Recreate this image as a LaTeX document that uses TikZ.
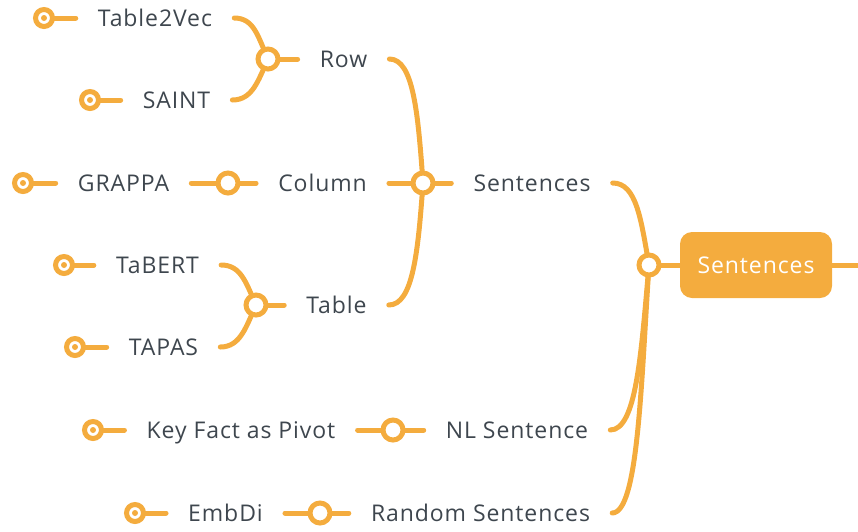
\documentclass[tikz,border=0pt]{standalone}
\usepackage{fontspec}
\setmainfont{Open Sans}[LetterSpace=4]
\usetikzlibrary{backgrounds}
\definecolor{org}{HTML}{F4AC3E}
\definecolor{txt}{HTML}{3E464E}
\begin{document}
\begin{tikzpicture}[x=1pt,y=-1pt,
  lbl/.style={text=txt, font=\fontsize{23}{26}\selectfont, inner xsep=22pt, inner ysep=0pt,
    text height=16.4pt, text depth=0pt, anchor=center},
  junc/.style={circle, draw=org, line width=5pt, fill=white, minimum size=20pt, inner sep=0pt},
  leaf/.style={circle, draw=org, line width=5pt, fill=white, minimum size=17pt, inner sep=0pt,
    path picture={\fill[org] (path picture bounding box.center) circle (3pt);}},
  ln/.style={draw=org, line width=5pt, line cap=round},
  mainbox/.style={rectangle, rounded corners=12pt, fill=org, text=white, minimum width=152pt,
    minimum height=66pt, font=\fontsize{23}{26}\selectfont, inner sep=0pt,
    text height=16.4pt, text depth=0pt},
]
\useasboundingbox (0,0) rectangle (858,531);

% text nodes
\node[lbl] (t2v) at (155,18) {Table2Vec};
\node[lbl] (saint) at (176.5,100) {SAINT};
\node[lbl] (row) at (343.5,59) {Row};
\node[lbl] (grappa) at (123.5,183) {GRAPPA};
\node[lbl] (column) at (322.5,183) {Column};
\node[lbl] (sent) at (532,183) {Sentences};
\node[lbl] (tabert) at (157.5,265) {TaBERT};
\node[lbl] (tapas) at (163.5,347) {TAPAS};
\node[lbl] (table) at (336.5,305) {Table};
\node[lbl] (kf) at (241,430) {Key Fact as Pivot};
\node[lbl] (nl) at (517,430) {NL Sentence};
\node[lbl] (embdi) at (225.5,513) {EmbDi};
\node[lbl] (rnd) at (480.5,513) {Random Sentences};
\node[mainbox] (main) at (756,265) {Sentences};

% leaf circles
\node[leaf] (l1) at (44,18) {};
\node[leaf] (l2) at (90,100) {};
\node[leaf] (l3) at (23,183) {};
\node[leaf] (l4) at (64,265) {};
\node[leaf] (l5) at (75,347) {};
\node[leaf] (l6) at (93,430) {};
\node[leaf] (l7) at (135,513) {};

% junction circles
\node[junc] (jrow) at (268,59) {};
\node[junc] (jcol) at (228,183) {};
\node[junc] (jtab) at (256,305) {};
\node[junc] (jsent) at (423,183) {};
\node[junc] (jnl) at (393,430) {};
\node[junc] (jrnd) at (320,513) {};
\node[junc] (jmain) at (649,265) {};
\coordinate (edge) at (858,265);

\begin{pgfonlayer}{background}
  % leaf stubs
  \draw[ln] (l1.center) -- (t2v.west);
  \draw[ln] (l2.center) -- (saint.west);
  \draw[ln] (l3.center) -- (grappa.west);
  \draw[ln] (l4.center) -- (tabert.west);
  \draw[ln] (l5.center) -- (tapas.west);
  \draw[ln] (l6.center) -- (kf.west);
  \draw[ln] (l7.center) -- (embdi.west);
  % level 1
  \draw[ln] (t2v.east) .. controls +(20,0) and +(-10,-22) .. (jrow.center);
  \draw[ln] (saint.east) .. controls +(20,0) and +(-10,22) .. (jrow.center);
  \draw[ln] (jrow.center) -- (row.west);
  \draw[ln] (grappa.east) -- (jcol.center) -- (column.west);
  \draw[ln] (tabert.east) .. controls +(20,0) and +(-10,-22) .. (jtab.center);
  \draw[ln] (tapas.east) .. controls +(20,0) and +(-10,22) .. (jtab.center);
  \draw[ln] (jtab.center) -- (table.west);
  \draw[ln] (kf.east) -- (jnl.center) -- (nl.west);
  \draw[ln] (embdi.east) -- (jrnd.center) -- (rnd.west);
  % level 2
  \draw[ln] (row.east) .. controls +(24,0) and +(-5,-70) .. (jsent.center);
  \draw[ln] (column.east) -- (jsent.center);
  \draw[ln] (table.east) .. controls +(24,0) and +(-5,70) .. (jsent.center);
  \draw[ln] (jsent.center) -- (sent.west);
  % level 3
  \draw[ln] (sent.east) .. controls +(24,0) and +(-8,-45) .. (jmain.center);
  \draw[ln] (nl.east) .. controls +(26,0) and +(-8,90) .. (jmain.center);
  \draw[ln] (rnd.east) .. controls +(26,0) and +(-8,120) .. (jmain.center);
  \draw[ln] (jmain.center) -- (main.west);
  \draw[ln] (main.east) -- (edge);
\end{pgfonlayer}
\end{tikzpicture}
\end{document}
